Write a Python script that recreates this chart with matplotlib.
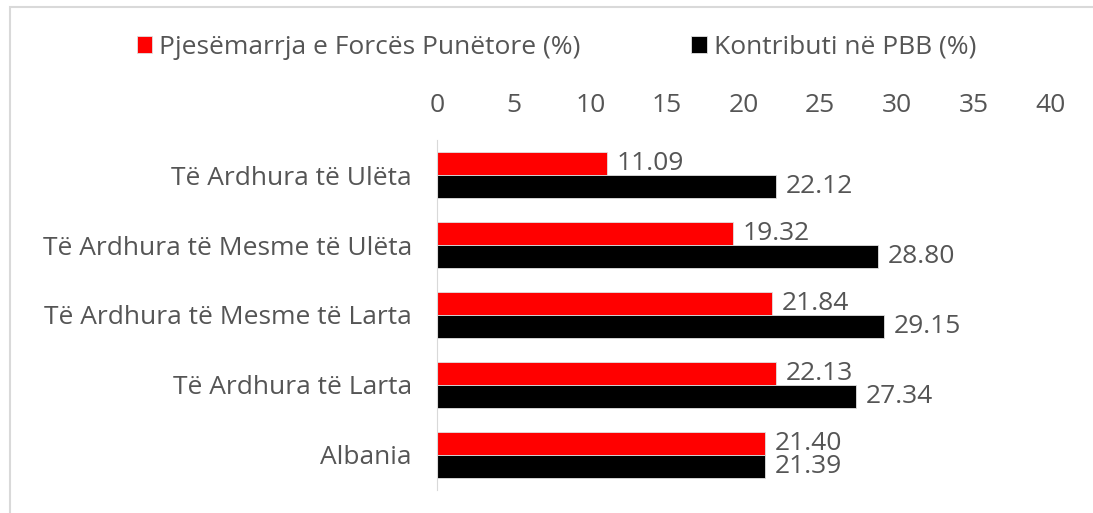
import matplotlib
matplotlib.use("Agg")
import matplotlib.pyplot as plt
import numpy as np

# ---------- Data ----------
categories = [
    "Të Ardhura të Ulëta",
    "Të Ardhura të Mesme të Ulëta",
    "Të Ardhura të Mesme të Larta",
    "Të Ardhura të Larta",
    "Albania",
]
labour_force = [11.09, 19.32, 21.84, 22.13, 21.40]
gdp_contrib = [22.12, 28.80, 29.15, 27.34, 21.39]
series_names = ["Pjesëmarrja e Forcës Punëtore (%)", "Kontributi në PBB (%)"]
xticks = [0, 5, 10, 15, 20, 25, 30, 35, 40]

plt.rcParams['font.family'] = ['Open Sans', 'DejaVu Sans']
TXT = '#555555'
FS = 19

fig = plt.figure(figsize=(10.93, 5.13), dpi=100)
ax = fig.add_axes([0.3998, 0.045, 0.561, 0.682])

y = np.arange(len(categories))
h = 0.33
b1 = ax.barh(y - h / 2, labour_force, height=h, color='#ff0000',
             edgecolor='#e0e0e0', linewidth=0.6, label=series_names[0])
b2 = ax.barh(y + h / 2, gdp_contrib, height=h, color='#000000',
             edgecolor='#e0e0e0', linewidth=0.6, label=series_names[1])

for bars in (b1, b2):
    ax.bar_label(bars, labels=[f"{v:.2f}" for v in bars.datavalues],
                 padding=7, fontsize=FS, color=TXT)

ax.set_ylim(len(categories) - 0.5, -0.5)
ax.set_xlim(0, 40)
ax.set_xticks(xticks)
ax.set_yticks(y)
ax.set_yticklabels(categories)
ax.xaxis.tick_top()
ax.tick_params(axis='x', length=0, pad=16, labelsize=FS, labelcolor=TXT)
ax.tick_params(axis='y', length=0, pad=18, labelsize=FS, labelcolor=TXT)
for s in ('top', 'right', 'bottom'):
    ax.spines[s].set_visible(False)
ax.spines['left'].set_color('#d9d9d9')

leg = fig.legend(loc='center', bbox_to_anchor=(0.509, 0.908), ncol=2,
                 frameon=False, fontsize=FS, handlelength=0.6,
                 handleheight=0.6, handletextpad=0.25, columnspacing=4.2,
                 labelcolor=TXT)

# outer chart border
fig.patches.append(plt.Rectangle((0.009, -0.05), 1.1, 1.036, transform=fig.transFigure,
                                 fill=False, edgecolor='#d9d9d9', linewidth=1.5))

fig.savefig("out.png", dpi=100)
